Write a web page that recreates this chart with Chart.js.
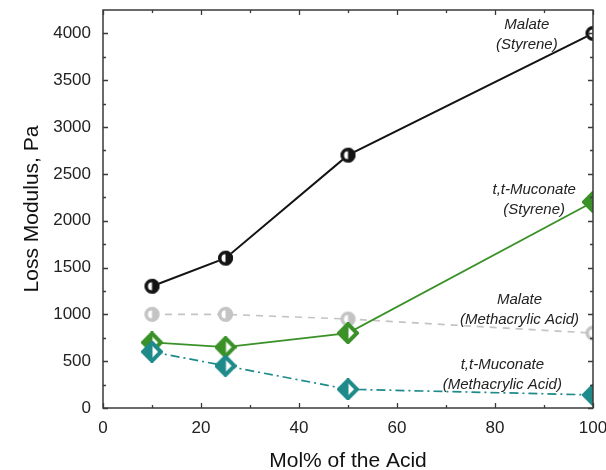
<!DOCTYPE html>
<html>
<head>
<meta charset="utf-8">
<script src="https://cdn.jsdelivr.net/npm/chart.js@4/dist/chart.umd.min.js"></script>
<style>
  html, body { margin: 0; padding: 0; background: #fff; }
  #wrap { width: 606px; height: 470px; }
</style>
</head>
<body>
<div id="wrap"><canvas id="c" width="606" height="470"></canvas></div>
<script>
// Loss modulus vs. acid content for four copolymer systems
const molPercent      = [10, 25, 50, 100];
const malateStyrene   = [1300, 1600, 2700, 4000];
const muconateStyrene = [700, 650, 800, 2200];
const malateMAA       = [1000, 1000, 950, 800];
const muconateMAA     = [600, 450, 200, 140];

const xTickValues  = [0, 20, 40, 60, 80, 100];
const xMinorTicks  = [10, 30, 50, 70, 90];
const yTickValues  = [0, 500, 1000, 1500, 2000, 2500, 3000, 3500, 4000];
const yMinorTicks  = [250, 750, 1250, 1750, 2250, 2750, 3250, 3750];

const seriesLabels = [
  ['Malate', '(Styrene)'],
  ['t,t-Muconate', '(Styrene)'],
  ['Malate', '(Methacrylic Acid)'],
  ['t,t-Muconate', '(Methacrylic Acid)']
];

const BLACK = '#141414', GREEN = '#3a9128', GRAY = '#c4c4c4', TEAL = '#1e8a8a';
const FONT = "'Liberation Sans', Arial, Helvetica, sans-serif";

// Half-filled circle: right half solid, small white half-disc on the left, heavy outline
function halfCircle(color, r) {
  const s = Math.ceil(2 * r + 4), m = s / 2;
  const c = document.createElement('canvas'); c.width = c.height = s;
  const g = c.getContext('2d');
  g.beginPath(); g.arc(m, m, r, 0, 2 * Math.PI); g.fillStyle = '#fff'; g.fill();
  g.beginPath(); g.arc(m, m, r, -Math.PI / 2, Math.PI / 2); g.closePath();
  g.fillStyle = color; g.fill();
  g.beginPath(); g.arc(m, m, r - 1.7, 0, 2 * Math.PI); g.lineWidth = 3.6; g.strokeStyle = color; g.stroke();
  return c;
}
// Half-filled diamond: left half solid, small white area on the right, heavy outline
function halfDiamond(color, r) {
  const s = Math.ceil(2 * r + 4), m = s / 2;
  const c = document.createElement('canvas'); c.width = c.height = s;
  const g = c.getContext('2d');
  const path = () => { g.beginPath(); g.moveTo(m, m - r); g.lineTo(m + r, m); g.lineTo(m, m + r); g.lineTo(m - r, m); g.closePath(); };
  path(); g.fillStyle = '#fff'; g.fill();
  g.beginPath(); g.moveTo(m + 0.5, m - r); g.lineTo(m + 0.5, m + r); g.lineTo(m - r, m); g.closePath();
  g.fillStyle = color; g.fill();
  path(); g.lineWidth = 4; g.lineJoin = 'miter'; g.strokeStyle = color; g.stroke();
  return c;
}

const toPoints = ys => molPercent.map((x, i) => ({ x, y: ys[i] }));

// Label anchors in data units (centre of each two-line note)
const noteAnchors = [
  { x: 86.5, y: 3990 },
  { x: 88.0, y: 2225 },
  { x: 85.0, y: 1045 },
  { x: 81.5, y: 355 }
];

const framePlugin = {
  id: 'frame',
  afterDatasetsDraw(chart) {
    const { ctx, chartArea: a, scales: { x, y } } = chart;
    ctx.save();
    ctx.strokeStyle = '#3a3a3a';
    ctx.lineWidth = 1.5;
    ctx.strokeRect(a.left, a.top, a.right - a.left, a.bottom - a.top);
    ctx.lineWidth = 1.3;
    ctx.beginPath();
    const xt = (v, len) => {
      const p = Math.round(x.getPixelForValue(v)) + 0.5;
      ctx.moveTo(p, a.bottom); ctx.lineTo(p, a.bottom - len);
      ctx.moveTo(p, a.top); ctx.lineTo(p, a.top + len);
    };
    const yt = (v, len) => {
      const p = Math.round(y.getPixelForValue(v)) + 0.5;
      ctx.moveTo(a.left, p); ctx.lineTo(a.left + len, p);
      ctx.moveTo(a.right, p); ctx.lineTo(a.right - len, p);
    };
    xTickValues.forEach(v => xt(v, 5));
    xMinorTicks.forEach(v => xt(v, 3));
    yTickValues.forEach(v => yt(v, 5));
    yMinorTicks.forEach(v => yt(v, 3));
    ctx.stroke();
    ctx.restore();
  },
  afterDraw(chart) {
    const { ctx, scales: { x, y } } = chart;
    ctx.save();
    ctx.font = 'italic 15px ' + FONT;
    ctx.fillStyle = '#222';
    ctx.textAlign = 'center';
    ctx.textBaseline = 'middle';
    seriesLabels.forEach((lines, i) => {
      const cx = x.getPixelForValue(noteAnchors[i].x);
      const cy = y.getPixelForValue(noteAnchors[i].y);
      ctx.fillText(lines[0], cx, cy - 10);
      ctx.fillText(lines[1], cx, cy + 10);
    });
    ctx.restore();
  }
};

// Let the layout padding alone decide the plot-box inset
const noOverflow = s => { s.paddingLeft = 0; s.paddingRight = 0; s.paddingTop = 0; s.paddingBottom = 0; };

new Chart(document.getElementById('c'), {
  type: 'line',
  data: {
    datasets: [
      { label: seriesLabels[0].join(' '), data: toPoints(malateStyrene), borderColor: BLACK, borderWidth: 2,
        pointStyle: halfCircle(BLACK, 7.5) },
      { label: seriesLabels[3].join(' '), data: toPoints(muconateMAA), borderColor: TEAL, borderWidth: 1.7,
        borderDash: [9, 4, 2, 4], pointStyle: halfDiamond(TEAL, 9) },
      { label: seriesLabels[1].join(' '), data: toPoints(muconateStyrene), borderColor: GREEN, borderWidth: 1.8,
        pointStyle: halfDiamond(GREEN, 9) },
      { label: seriesLabels[2].join(' '), data: toPoints(malateMAA), borderColor: GRAY, borderWidth: 1.7,
        borderDash: [7, 6], pointStyle: halfCircle(GRAY, 7.5) }
    ].map(d => Object.assign({ fill: false, tension: 0, clip: 0, pointRadius: 8, pointHoverRadius: 8 }, d))
  },
  options: {
    responsive: false,
    animation: false,
    events: [],
    layout: { padding: { top: 9, right: 13, left: 0, bottom: 0 } },
    plugins: { legend: { display: false }, tooltip: { enabled: false } },
    scales: {
      x: {
        type: 'linear', min: 0, max: 100,
        grid: { display: false, drawTicks: false }, border: { display: false },
        afterBuildTicks: s => { s.ticks = xTickValues.map(v => ({ value: v })); },
        afterFit: s => { s.height = 62; noOverflow(s); },
        ticks: { font: { family: FONT, size: 17 }, color: '#222', padding: 10, maxRotation: 0,
                 callback: v => String(v) },
        title: { display: true, text: 'Mol% of the Acid', color: '#111',
                 font: { family: FONT, size: 21, lineHeight: 1 }, padding: { top: 0, bottom: -2 } }
      },
      y: {
        type: 'linear', min: 0, max: 4250,
        grid: { display: false, drawTicks: false }, border: { display: false },
        afterBuildTicks: s => { s.ticks = yTickValues.map(v => ({ value: v })); },
        afterFit: s => { s.width = 103; noOverflow(s); },
        ticks: { font: { family: FONT, size: 17 }, color: '#222', padding: 12,
                 callback: v => String(v) },
        title: { display: true, text: 'Loss Modulus, Pa', color: '#111',
                 font: { family: FONT, size: 21, lineHeight: 1.2 }, padding: { top: 20, bottom: 0 } }
      }
    }
  },
  plugins: [framePlugin]
});
</script>
</body>
</html>
